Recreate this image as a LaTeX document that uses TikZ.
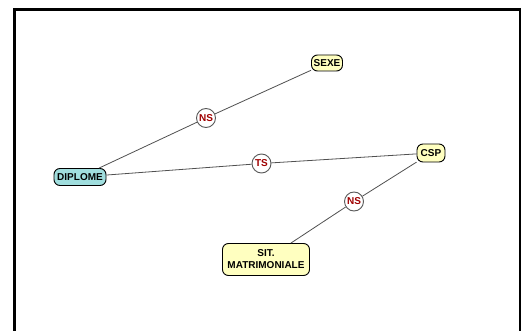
\documentclass[tikz,border=0pt]{standalone}
\usepackage{fontspec}
\setmainfont{Liberation Sans}
\definecolor{nodeyellow}{HTML}{FFFFC0}
\definecolor{nodecyan}{HTML}{A0DEDE}
\definecolor{labred}{HTML}{A00000}
\definecolor{edgegray}{HTML}{505050}
\begin{document}
\begin{tikzpicture}[x=1pt,y=-1pt,
  var/.style={draw=black,line width=0.9pt,rounded corners=6pt,fill=nodeyellow,
    font=\fontsize{10}{11}\selectfont\bfseries,inner sep=1pt,align=center},
  dip/.style={var,fill=nodecyan},
  lab/.style={circle,draw=black!65,line width=0.9pt,fill=white,minimum size=19pt,inner sep=0pt,
    font=\fontsize{10}{11}\selectfont\bfseries,text=labred},
  edge/.style={draw=edgegray,line width=0.8pt}]
\useasboundingbox (0,0) rectangle (521,331);
\draw[line width=3pt] (14.5,331) -- (14.5,9.5) -- (521,9.5);
\draw[line width=1.5pt] (519.8,8) -- (519.8,331);
\node[var,minimum width=31pt,minimum height=16pt] (sexe) at (327,63) {SEXE};
\node[dip,minimum width=52pt,minimum height=17pt] (dip) at (80,177) {DIPLOME};
\node[var,minimum width=28pt,minimum height=18pt] (csp) at (431,153) {CSP};
\node[var,minimum width=87pt,minimum height=32pt,font=\fontsize{10}{12}\selectfont\bfseries] (sit) at (266,259.5) {SIT.\\MATRIMONIALE};
\node[lab] (ns1) at (206,118) {NS};
\node[lab] (ts) at (261.5,163.5) {TS};
\node[lab] (ns2) at (354,201.5) {NS};
\draw[edge] (dip) -- (ns1);
\draw[edge] (ns1) -- (sexe);
\draw[edge] (dip) -- (ts);
\draw[edge] (ts) -- (csp);
\draw[edge] (csp) -- (ns2);
\draw[edge] (ns2) -- (sit);
\end{tikzpicture}
\end{document}
